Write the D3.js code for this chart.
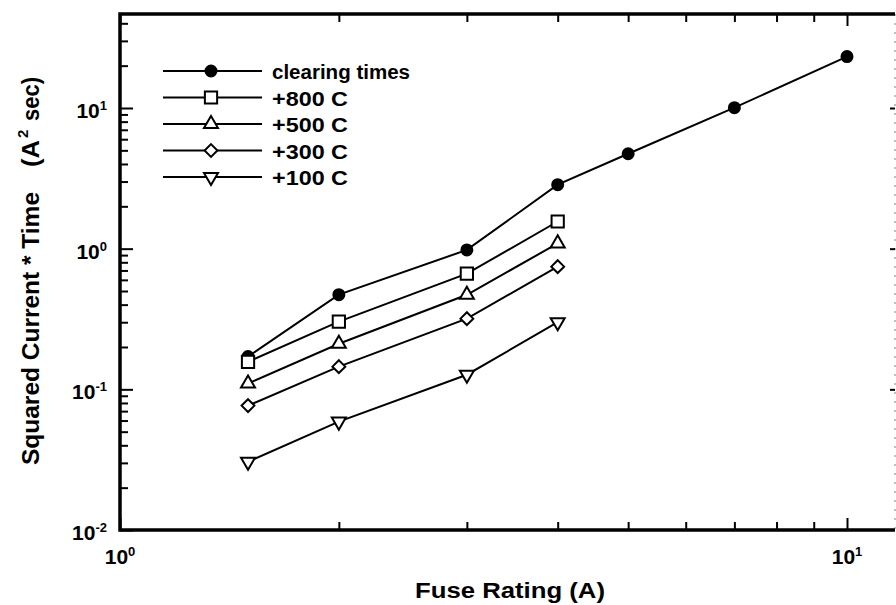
<!DOCTYPE html>
<html><head><meta charset="utf-8">
<script src="https://cdn.jsdelivr.net/npm/d3@7"></script>
<style>body{margin:0;background:#fff}svg{display:block}text{font-family:"Liberation Sans",Arial,sans-serif;font-weight:bold;fill:#000}</style>
</head><body><svg id="c" width="896" height="605"></svg>
<script>
// ---- data ----
const ratings = [1.5, 2, 3, 4, 5, 7, 10];
const clearingTimes = [0.171, 0.471, 0.98, 2.85, 4.73, 10.05, 23.2];
const plus800 = [0.157, 0.303, 0.664, 1.56];
const plus500 = [0.11, 0.211, 0.47, 1.09];
const plus300 = [0.0766, 0.145, 0.318, 0.745];
const plus100 = [0.0306, 0.059, 0.127, 0.30];
const seriesNames = ["clearing times", "+800 C", "+500 C", "+300 C", "+100 C"];
const xTickExps = ["0", "1"];
const yTickExps = ["-2", "-1", "0", "1"];
const xTitle = "Fuse Rating  (A)";
const yTitleMain = "Squared Current * Time";

// ---- layout ----
const svg = d3.select("#c");
const L = 120, R = 895, T = 14, B = 530;
const x = d3.scaleLog().domain([1, 10]).range([L, 847]);
const y = d3.scaleLog().domain([0.01, 10]).range([B, 108]);
const xMax = x.invert(R), yMax = y.invert(T);

function minorTicks(lo, hi) {
  const out = [];
  for (let e = Math.floor(Math.log10(lo)); e <= Math.ceil(Math.log10(hi)); e++) {
    for (let m = 1; m <= 9; m++) {
      const v = m * Math.pow(10, e);
      if (v >= lo * 0.9999 && v <= hi) out.push(v);
    }
  }
  return out;
}
const isPow10 = v => Math.abs(Math.log10(v) - Math.round(Math.log10(v))) < 1e-6;
const xMinor = minorTicks(1, xMax).filter(v => !isPow10(v));
const xMajor = xTickExps.map(e => Math.pow(10, +e));
const yMinor = minorTicks(0.01, yMax).filter(v => !isPow10(v));
const yMajor = yTickExps.map(e => Math.pow(10, +e));

function styleAxis(g, w) {
  g.select(".domain").remove();
  g.selectAll("line").attr("stroke", "#000").attr("stroke-width", w);
}
// bottom
svg.append("g").attr("transform", `translate(0,${B})`).call(d3.axisBottom(x).tickValues(xMinor).tickSize(-8).tickFormat("")).call(g => styleAxis(g, 2));
svg.append("g").attr("transform", `translate(0,${B})`).call(d3.axisBottom(x).tickValues(xMajor).tickSize(-12).tickFormat("")).call(g => styleAxis(g, 2));
// top
svg.append("g").attr("transform", `translate(0,${T})`).call(d3.axisTop(x).tickValues(xMinor).tickSize(-8).tickFormat("")).call(g => styleAxis(g, 2));
svg.append("g").attr("transform", `translate(0,${T})`).call(d3.axisTop(x).tickValues(xMajor).tickSize(-12).tickFormat("")).call(g => styleAxis(g, 2));
// left
svg.append("g").attr("transform", `translate(${L},0)`).call(d3.axisLeft(y).tickValues(yMinor).tickSize(-8).tickFormat("")).call(g => styleAxis(g, 2));
svg.append("g").attr("transform", `translate(${L},0)`).call(d3.axisLeft(y).tickValues(yMajor).tickSize(-13).tickFormat("")).call(g => styleAxis(g, 2));
// right (faint)
svg.append("line").attr("x1", R).attr("x2", R).attr("y1", T).attr("y2", B)
  .attr("stroke", "#aaa").attr("stroke-width", 1.5).attr("stroke-dasharray", "2,7");
svg.append("g").attr("transform", `translate(${R},0)`).call(d3.axisRight(y).tickValues(yMajor.filter(v => v > 0.01)).tickSize(-5).tickFormat("")).call(g => styleAxis(g, 2));

// frame (left, top, bottom)
svg.append("path").attr("d", `M${R},${T}H${L}V${B}H${R}`).attr("fill", "none").attr("stroke", "#000").attr("stroke-width", 3.5);

// tick labels
yMajor.forEach((v, i) => {
  const t = svg.append("text").attr("x", 107).attr("y", y(v) + 10).attr("text-anchor", "end").attr("font-size", 21);
  t.append("tspan").text("10");
  t.append("tspan").attr("font-size", 13).attr("dy", -8).text(yTickExps[i]);
});
xMajor.forEach((v, i) => {
  const t = svg.append("text").attr("x", x(v)).attr("y", 564).attr("text-anchor", "middle").attr("font-size", 21);
  t.append("tspan").text("10");
  t.append("tspan").attr("font-size", 13).attr("dy", -8).text(xTickExps[i]);
});

// axis titles
svg.append("text").attr("x", 415).attr("y", 598).attr("font-size", 22)
  .attr("textLength", 190).attr("lengthAdjust", "spacingAndGlyphs").text(xTitle);
const yt = svg.append("g").attr("transform", "translate(39,465) rotate(-90)");
yt.append("text").attr("x", 0).attr("y", 0).attr("font-size", 24)
  .attr("textLength", 273).attr("lengthAdjust", "spacingAndGlyphs").text(yTitleMain);
yt.append("text").attr("x", 298).attr("y", 0).attr("font-size", 24)
  .attr("textLength", 27).attr("lengthAdjust", "spacingAndGlyphs").text("(A");
yt.append("text").attr("x", 327).attr("y", -11).attr("font-size", 15).text("2");
yt.append("text").attr("x", 344).attr("y", 0).attr("font-size", 24)
  .attr("textLength", 44).attr("lengthAdjust", "spacingAndGlyphs").text("sec)");

// series
const markers = [
  {type: d3.symbolCircle, size: 95, fill: "#000", rot: 0},
  {type: d3.symbolSquare, size: 150, fill: "#fff", rot: 0},
  {type: d3.symbolTriangle, size: 85, fill: "#fff", rot: 0},
  {type: d3.symbolDiamond2, size: 105, fill: "#fff", rot: 0},
  {type: d3.symbolTriangle, size: 85, fill: "#fff", rot: 180}
];
const seriesVals = [clearingTimes, plus800, plus500, plus300, plus100];
const line = d3.line().x(d => x(d[0])).y(d => y(d[1]));
seriesVals.forEach((vals, i) => {
  const pts = vals.map((v, j) => [ratings[j], v]);
  svg.append("path").attr("d", line(pts)).attr("fill", "none").attr("stroke", "#000").attr("stroke-width", 2);
  const m = markers[i];
  svg.selectAll(null).data(pts).enter().append("path")
    .attr("d", d3.symbol().type(m.type).size(m.size))
    .attr("transform", d => `translate(${x(d[0])},${y(d[1])}) rotate(${m.rot})`)
    .attr("fill", m.fill).attr("stroke", "#000").attr("stroke-width", 2);
});

// legend
const legW = [138, 76, 76, 76, 76];
seriesNames.forEach((name, i) => {
  const ry = 71 + i * 26.5;
  svg.append("line").attr("x1", 163).attr("x2", 262).attr("y1", ry).attr("y2", ry).attr("stroke", "#000").attr("stroke-width", 2);
  const m = markers[i];
  svg.append("path").attr("d", d3.symbol().type(m.type).size(m.size)())
    .attr("transform", `translate(211,${ry}) rotate(${m.rot})`)
    .attr("fill", m.fill).attr("stroke", "#000").attr("stroke-width", 2);
  svg.append("text").attr("x", 272).attr("y", ry + 8).attr("font-size", 20)
    .attr("textLength", legW[i]).attr("lengthAdjust", "spacingAndGlyphs").text(name);
});
</script></body></html>
